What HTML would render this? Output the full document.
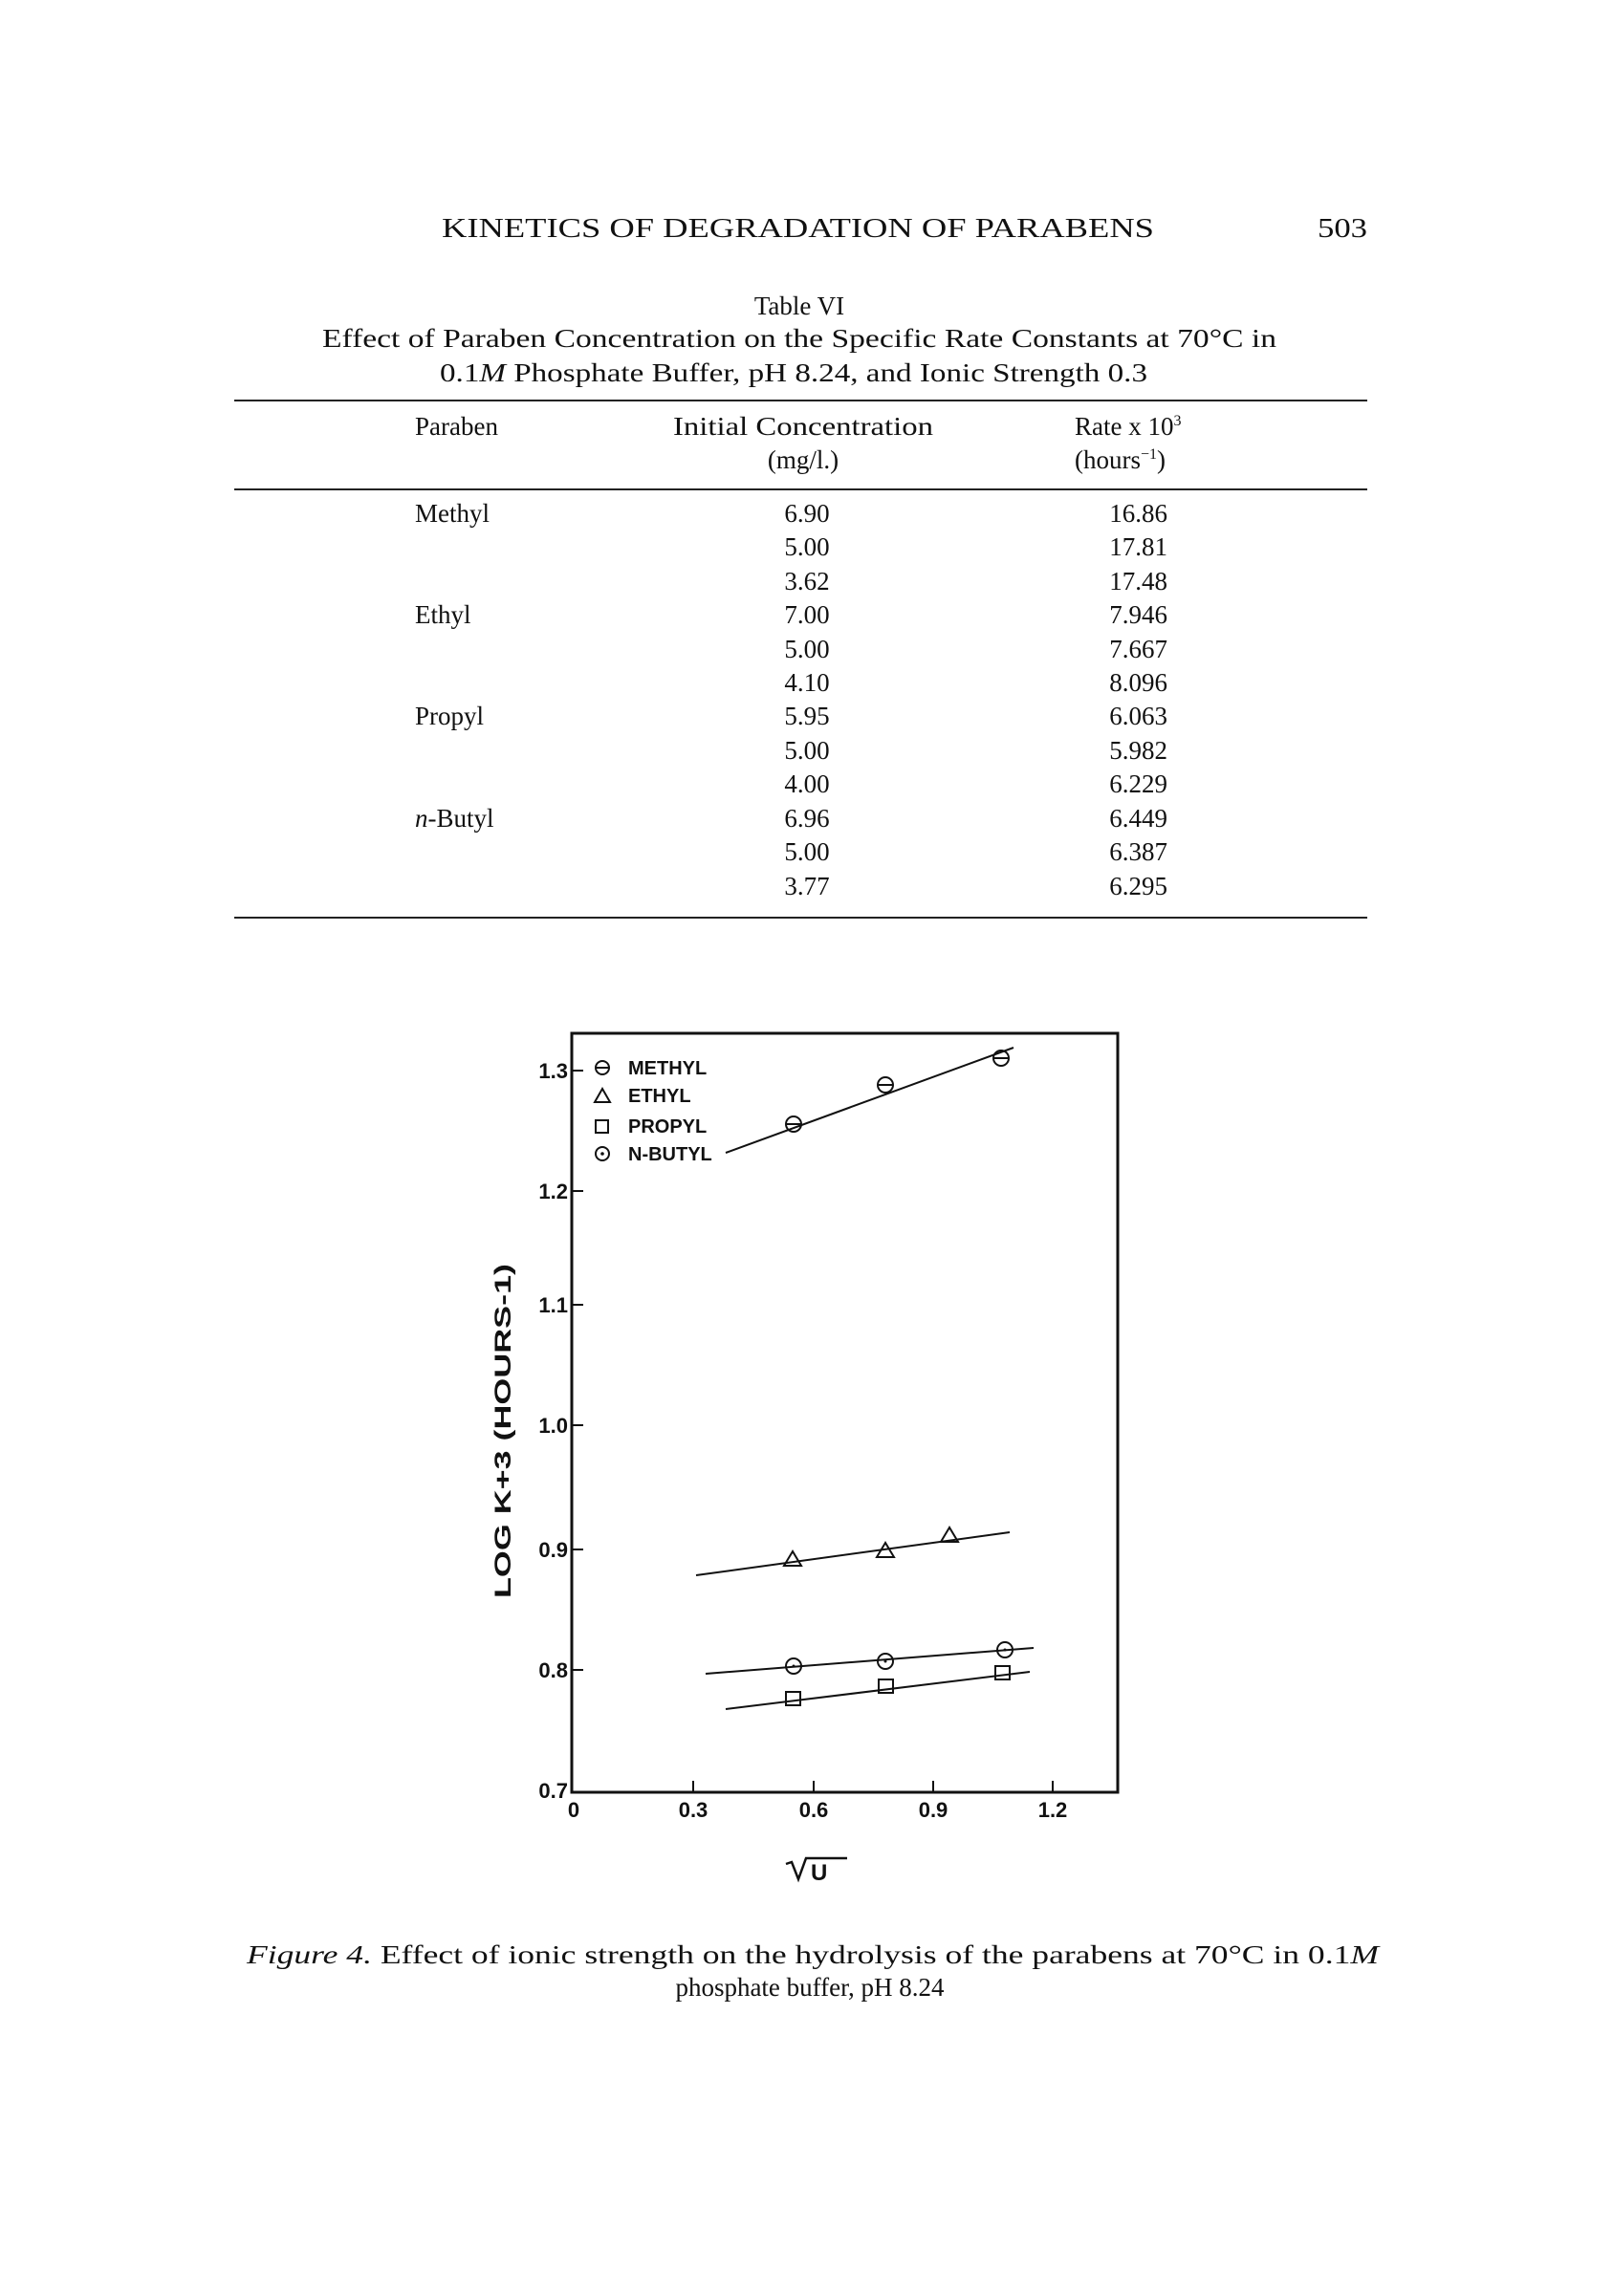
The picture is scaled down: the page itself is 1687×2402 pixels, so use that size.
<!DOCTYPE html>
<html><head><meta charset="utf-8"><style>
html,body{margin:0;padding:0;background:#fff}
svg{display:block}
.s{font-family:"Liberation Serif",serif;fill:#111}
.g{font-family:"Liberation Sans",sans-serif;fill:#111;font-weight:bold}
</style></head><body>
<svg width="1687" height="2402" viewBox="0 0 1687 2402" xmlns="http://www.w3.org/2000/svg">
<g class="s" font-size="28">
<text x="462" y="248" textLength="745" lengthAdjust="spacingAndGlyphs">KINETICS OF DEGRADATION OF PARABENS</text>
<text x="1378" y="248" textLength="52" lengthAdjust="spacingAndGlyphs">503</text>
</g>
<g class="s" font-size="27">
<text x="836" y="329" text-anchor="middle">Table VI</text>
<text x="337" y="363" textLength="998" lengthAdjust="spacingAndGlyphs">Effect of Paraben Concentration on the Specific Rate Constants at 70°C in</text>
<text x="460" y="399" textLength="740" lengthAdjust="spacingAndGlyphs">0.1<tspan font-style="italic">M</tspan> Phosphate Buffer, pH 8.24, and Ionic Strength 0.3</text>
</g>
<g stroke="#222" stroke-width="2">
<line x1="245" y1="419" x2="1430" y2="419"/>
<line x1="245" y1="512" x2="1430" y2="512"/>
<line x1="245" y1="960" x2="1430" y2="960"/>
</g>
<g class="s" font-size="27">
<text x="434" y="455">Paraben</text>
<text x="704" y="455" textLength="272" lengthAdjust="spacingAndGlyphs">Initial Concentration</text>
<text x="840" y="490" text-anchor="middle">(mg/l.)</text>
<text x="1124" y="455">Rate x 10<tspan font-size="16" dy="-10">3</tspan></text>
<text x="1124" y="490">(hours<tspan font-size="16" dy="-10">−1</tspan><tspan dy="10">)</tspan></text>
</g>
<g class="s" font-size="27">
<text x="434" y="546">Methyl</text>
<text x="434" y="652">Ethyl</text>
<text x="434" y="758">Propyl</text>
<text x="434" y="865"><tspan font-style="italic">n</tspan>-Butyl</text>
<g text-anchor="middle">
<text x="844" y="546">6.90</text><text x="844" y="581">5.00</text><text x="844" y="617">3.62</text>
<text x="844" y="652">7.00</text><text x="844" y="688">5.00</text><text x="844" y="723">4.10</text>
<text x="844" y="758">5.95</text><text x="844" y="794">5.00</text><text x="844" y="829">4.00</text>
<text x="844" y="865">6.96</text><text x="844" y="900">5.00</text><text x="844" y="936">3.77</text>
</g>
<g text-anchor="end">
<text x="1221" y="546">16.86</text><text x="1221" y="581">17.81</text><text x="1221" y="617">17.48</text>
<text x="1221" y="652">7.946</text><text x="1221" y="688">7.667</text><text x="1221" y="723">8.096</text>
<text x="1221" y="758">6.063</text><text x="1221" y="794">5.982</text><text x="1221" y="829">6.229</text>
<text x="1221" y="865">6.449</text><text x="1221" y="900">6.387</text><text x="1221" y="936">6.295</text>
</g>
</g>
<!-- chart -->
<rect x="598" y="1081" width="571" height="794" fill="none" stroke="#111" stroke-width="3"/>
<g stroke="#111" stroke-width="2">
<line x1="598" y1="1120" x2="610" y2="1120"/><line x1="598" y1="1246" x2="610" y2="1246"/>
<line x1="598" y1="1365" x2="610" y2="1365"/><line x1="598" y1="1491" x2="610" y2="1491"/>
<line x1="598" y1="1621" x2="610" y2="1621"/><line x1="598" y1="1747" x2="610" y2="1747"/>
<line x1="725" y1="1875" x2="725" y2="1863"/><line x1="851" y1="1875" x2="851" y2="1863"/>
<line x1="976" y1="1875" x2="976" y2="1863"/><line x1="1101" y1="1875" x2="1101" y2="1863"/>
</g>
<g class="g" font-size="22" font-weight="normal" text-anchor="end">
<text x="594" y="1128">1.3</text><text x="594" y="1254">1.2</text><text x="594" y="1373">1.1</text>
<text x="594" y="1499">1.0</text><text x="594" y="1629">0.9</text><text x="594" y="1755">0.8</text>
<text x="594" y="1881">0.7</text>
</g>
<g class="g" font-size="22" font-weight="normal" text-anchor="middle">
<text x="600" y="1901">0</text><text x="725" y="1901">0.3</text><text x="851" y="1901">0.6</text>
<text x="976" y="1901">0.9</text><text x="1101" y="1901">1.2</text>
</g>
<text class="g" font-size="24" font-weight="normal" transform="translate(534,1497) rotate(-90)" text-anchor="middle" textLength="350" lengthAdjust="spacingAndGlyphs">LOG  K+3  (HOURS-1)</text>
<g class="g" font-size="20">
<text x="657" y="1124">METHYL</text><text x="657" y="1153">ETHYL</text>
<text x="657" y="1185">PROPYL</text><text x="657" y="1214">N-BUTYL</text>
</g>
<g fill="none" stroke="#111" stroke-width="2">
<circle cx="630" cy="1117" r="7"/><line x1="623" y1="1117" x2="637" y2="1117"/>
<polygon points="630,1139 622,1153 638,1153"/>
<rect x="623" y="1172" width="13" height="13"/>
<circle cx="630" cy="1207" r="7"/>
<line x1="759" y1="1206" x2="1060" y2="1096"/>
<line x1="728" y1="1648" x2="1056" y2="1603"/>
<line x1="738" y1="1751" x2="1081" y2="1724"/>
<line x1="759" y1="1788" x2="1077" y2="1749"/>
<g><circle cx="830" cy="1176" r="8"/><line x1="822" y1="1176" x2="838" y2="1176"/></g>
<g><circle cx="926" cy="1135" r="8"/><line x1="918" y1="1135" x2="934" y2="1135"/></g>
<g><circle cx="1047" cy="1107" r="8"/><line x1="1039" y1="1107" x2="1055" y2="1107"/></g>
<polygon points="829,1623 820,1638 838,1638"/>
<polygon points="926,1614 917,1629 935,1629"/>
<polygon points="993,1598 984,1613 1002,1613"/>
<circle cx="830" cy="1743" r="8"/><circle cx="926" cy="1738" r="8"/><circle cx="1051" cy="1726" r="8"/>
<rect x="822" y="1770" width="15" height="14"/><rect x="919" y="1757" width="15" height="14"/><rect x="1041" y="1743" width="15" height="14"/>
</g>
<g fill="#111"><circle cx="630" cy="1207" r="1.8"/><circle cx="830" cy="1743" r="1.5"/><circle cx="926" cy="1738" r="1.5"/><circle cx="1051" cy="1726" r="1.5"/></g>
<g stroke="#111" stroke-width="2.5" fill="none"><polyline points="822,1950 828,1948 835,1966 843,1944 886,1944"/></g>
<text class="g" font-size="24" x="848" y="1967" font-weight="normal">U</text>
<g class="s" font-size="27">
<text x="258" y="2054" textLength="1184" lengthAdjust="spacingAndGlyphs"><tspan font-style="italic">Figure 4.</tspan> Effect of ionic strength on the hydrolysis of the parabens at 70°C in 0.1<tspan font-style="italic">M</tspan></text>
<text x="847" y="2088" text-anchor="middle">phosphate buffer, pH 8.24</text>
</g>
</svg>
</body></html>
